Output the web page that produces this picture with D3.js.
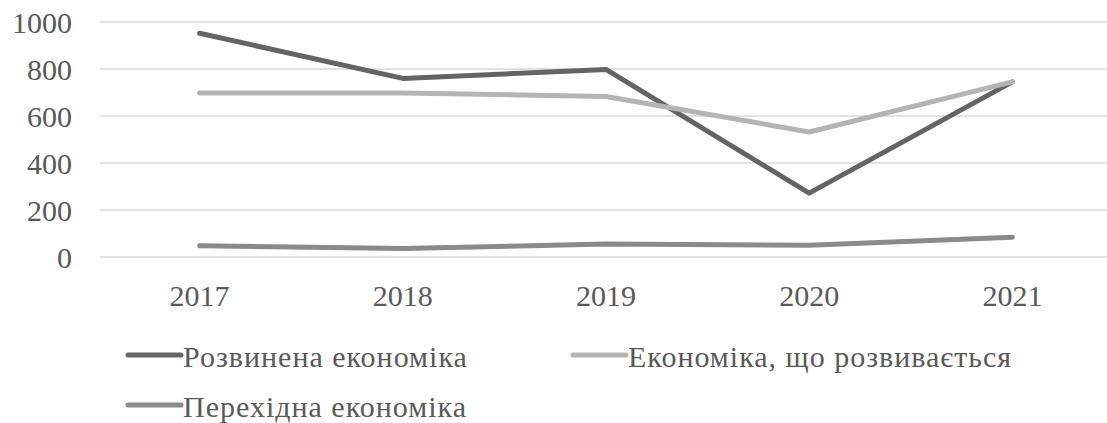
<!DOCTYPE html>
<html>
<head>
<meta charset="utf-8">
<script src="https://cdn.jsdelivr.net/npm/d3@7"></script>
<style>
  body { margin: 0; background: #fff; }
</style>
</head>
<body>
<div id="chart"></div>
<script>
// Years along the x axis.
const years = ["2017", "2018", "2019", "2020", "2021"];
// Series values.
const developed = [952, 760, 798, 272, 745];
const developing = [698, 698, 683, 532, 745];
const transition = [48, 36, 55, 50, 84];
const yTicks = [0, 200, 400, 600, 800, 1000];

const seriesNames = ["Розвинена економіка", "Економіка, що розвивається", "Перехідна економіка"];
const seriesColors = ["#646464", "#b4b4b4", "#8a8a8a"];
const series = [developed, developing, transition].map((vals, i) => ({
  name: seriesNames[i], color: seriesColors[i],
  values: vals.map((v, j) => ({ year: years[j], value: v }))
}));

const font = "'Liberation Serif', 'Times New Roman', serif";
const textColor = "#595959";

const width = 1107, height = 423;
const svg = d3.select("#chart").append("svg")
  .attr("width", width)
  .attr("height", height);

// Scales.
const x = d3.scaleBand().domain(years).range([98, 1114]);
const y = d3.scaleLinear().domain([0, 1000]).range([257, 22]);
const cx = d => x(d) + x.bandwidth() / 2;

// Horizontal gridlines.
svg.append("g")
  .selectAll("line")
  .data(yTicks)
  .enter()
  .append("line")
  .attr("x1", 100)
  .attr("x2", width)
  .attr("y1", d => y(d))
  .attr("y2", d => y(d))
  .attr("stroke", "#d9d9d9")
  .attr("stroke-width", 1.5);

// Y tick labels.
svg.append("g")
  .selectAll("text")
  .data(yTicks)
  .enter()
  .append("text")
  .attr("x", 72)
  .attr("y", d => y(d) + 11)
  .attr("text-anchor", "end")
  .attr("font-family", font)
  .attr("font-size", 30)
  .attr("fill", textColor)
  .text(d => d);

// X tick labels.
svg.append("g")
  .selectAll("text")
  .data(years)
  .enter()
  .append("text")
  .attr("x", d => cx(d))
  .attr("y", 306)
  .attr("text-anchor", "middle")
  .attr("font-family", font)
  .attr("font-size", 30)
  .attr("fill", textColor)
  .text(d => d);

// Lines.
const line = d3.line()
  .x(d => cx(d.year))
  .y(d => y(d.value));

svg.append("g")
  .selectAll("path")
  .data(series)
  .enter()
  .append("path")
  .attr("d", d => line(d.values))
  .attr("fill", "none")
  .attr("stroke", d => d.color)
  .attr("stroke-width", 5)
  .attr("stroke-linecap", "round")
  .attr("stroke-linejoin", "round");

// Legend.
const legendPos = [[128, 355], [573, 355], [128, 405]];
const legend = svg.append("g")
  .selectAll("g")
  .data(series)
  .enter()
  .append("g")
  .attr("transform", (d, i) => `translate(${legendPos[i][0]},${legendPos[i][1]})`);

legend.append("line")
  .attr("x1", 0)
  .attr("x2", 53)
  .attr("stroke", d => d.color)
  .attr("stroke-width", 5)
  .attr("stroke-linecap", "round");

legend.append("text")
  .attr("x", 55)
  .attr("y", 12)
  .attr("font-family", font)
  .attr("font-size", 30)
  .attr("letter-spacing", 1)
  .attr("fill", textColor)
  .text(d => d.name);
</script>
</body>
</html>
